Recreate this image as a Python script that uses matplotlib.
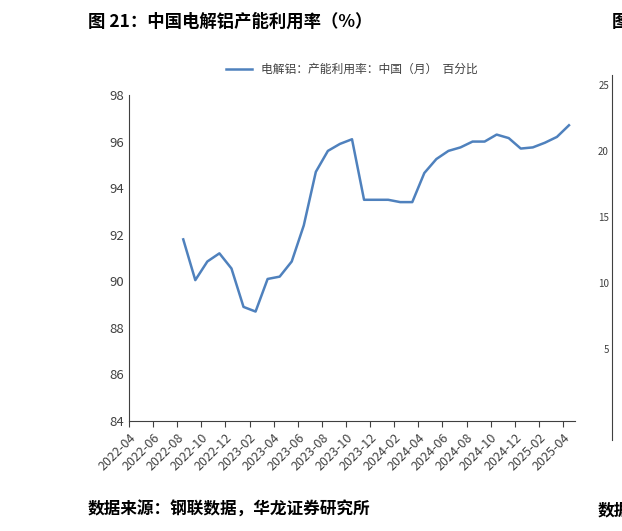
import matplotlib.pyplot as plt
import numpy as np

plt.rcParams['font.family'] = ['Noto Sans CJK SC', 'DejaVu Sans']

# monthly utilisation, 2022-08 .. 2025-04
months = ['2022-04', '2022-06', '2022-08', '2022-10', '2022-12', '2023-02', '2023-04',
          '2023-06', '2023-08', '2023-10', '2023-12', '2024-02', '2024-04', '2024-06',
          '2024-08', '2024-10', '2024-12', '2025-02', '2025-04']
values = [91.8, 90.05, 90.85, 91.2, 90.55, 88.9, 88.7, 90.1, 90.2, 90.85, 92.4,
          94.7, 95.6, 95.9, 96.1, 93.5, 93.5, 93.5, 93.4, 93.4, 94.65, 95.25,
          95.6, 95.75, 96.0, 96.0, 96.3, 96.15, 95.7, 95.75, 95.95, 96.2, 96.7]
start_idx = 4  # 2022-08 relative to 2022-04

W, H = 622, 531
fig = plt.figure(figsize=(W / 100, H / 100), dpi=100)
ax = fig.add_axes([129 / W, 1 - 421 / H, (575 - 129) / W, (421 - 95) / H])

x = np.arange(len(values)) + start_idx + 0.5
ax.plot(x, values, color='#4F81BD', lw=1.8, label='电解铝：产能利用率：中国（月）  百分比')
ax.set_xlim(0, 37)
ax.set_ylim(84, 98)
ax.set_yticks(np.arange(84, 99, 2))
ax.set_xticks(np.arange(0, 37, 2))
ax.set_xticklabels(months, rotation=45, ha='right', rotation_mode='anchor', fontsize=9,
                   color='#404040')
ax.tick_params(axis='y', labelsize=9.5, labelcolor='#404040', length=0)
ax.tick_params(axis='x', length=4, color='#404040')
for s in ['top', 'right']:
    ax.spines[s].set_visible(False)
for s in ['left', 'bottom']:
    ax.spines[s].set_color('#404040')
ax.legend(loc='upper center', bbox_to_anchor=(0.5, 1.13), frameon=False, fontsize=8.5,
          handlelength=2.2, labelcolor='#404040')

fig.text(88 / W, 1 - 22 / H, '图 21：中国电解铝产能利用率（%）', fontsize=12.5,
         fontweight='bold', va='center')
fig.text(88 / W, 1 - 510 / H, '数据来源：钢联数据，华龙证券研究所', fontsize=12,
         fontweight='bold', va='center')
fig.text(598 / W, 1 - 510 / H, '数据', fontsize=12, fontweight='bold', va='center')
fig.text(612 / W, 1 - 22 / H, '图', fontsize=12.5, fontweight='bold', va='center')

# edge of the neighbouring chart
fig.add_artist(plt.Line2D([612 / W, 612 / W], [1 - 440 / H, 1 - 75 / H], color='#404040', lw=0.8))
for yy, lab in [(86, '25'), (152, '20'), (218, '15'), (284, '10'), (350, '5')]:
    fig.text(609 / W, 1 - yy / H, lab, fontsize=7, ha='right', va='center', color='#404040')

fig.savefig('out.png', dpi=100)
